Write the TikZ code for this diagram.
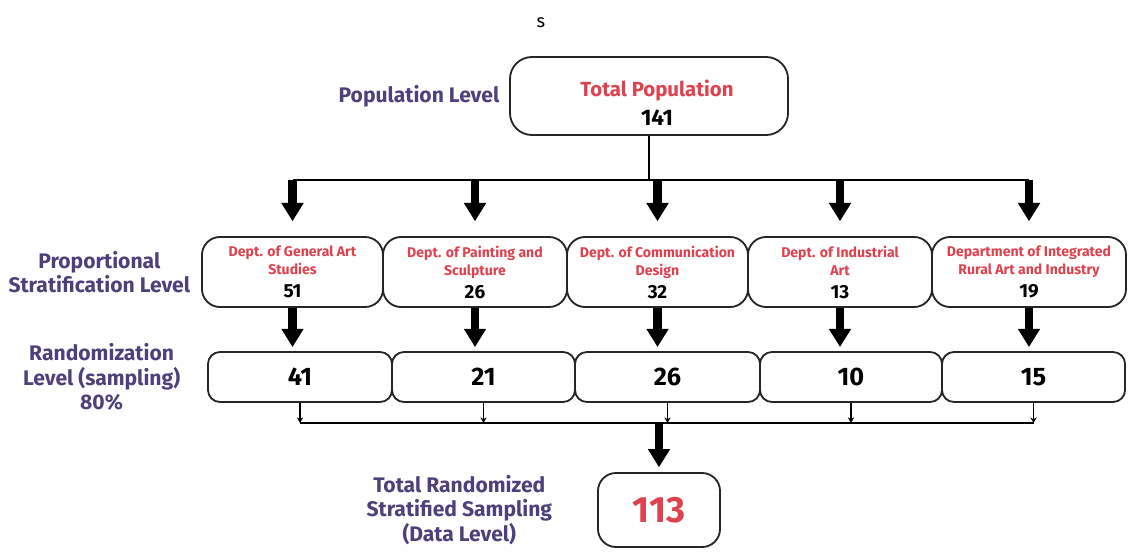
\documentclass[tikz,border=0pt]{standalone}
\usepackage{fontspec}
\setmainfont{Fira Sans}
\usetikzlibrary{arrows.meta}
\usetikzlibrary{positioning}
\definecolor{levelpurple}{RGB}{78,64,122}
\definecolor{deptred}{RGB}{222,66,78}
\newcommand\deptfont{\bfseries\fontsize{10}{12.8}\selectfont}
\newcommand\numfont{\bfseries\fontsize{13.5}{14}\selectfont}
\newcommand\deptlines[3]{\textcolor{deptred}{#1}\\\textcolor{deptred}{#2}\\[3.5pt]{\numfont #3}}
\tikzset{
  roundbox/.style={draw=black!85,line width=1.3pt,fill=white,inner sep=0pt},
  deptbox/.style={roundbox,rounded corners=0.45cm,minimum height=1.75cm,align=center,font=\deptfont},
  randbox/.style={roundbox,rounded corners=0.3cm,minimum height=1.25cm,font=\bfseries\fontsize{18}{20}\selectfont},
  levellabel/.style={font=\bfseries\fontsize{15}{17.5}\selectfont,text=levelpurple,align=center},
  thinline/.style={line width=1.3pt},
  bigarrow/.style={line width=6pt,-{Triangle[width=15pt,length=13pt]}},
  smallarrow/.style={line width=1.2pt,-{Stealth[width=4.5pt,length=4pt]}},
}

\begin{document}
\begin{tikzpicture}[x=0.025cm,y=-0.025cm]
\useasboundingbox (0,0) rectangle (1128,551);
\node[font=\fontsize{13}{15}\selectfont] (note) at (541,23) {s};

\node[roundbox,rounded corners=0.55cm,minimum width=6.95cm,minimum height=1.95cm] (total) at (649,96) {};
\node[font=\bfseries\fontsize{14.5}{20.5}\selectfont,align=center] (totaltext) at (657,103) {\textcolor{deptred}{Total Population}\\{\fontsize{16}{20.5}\selectfont 141}};
\node[levellabel,left=0.12cm of total] (poplevel) {Population Level};

\node[deptbox,minimum width=4.525cm] (dept1) at (292.5,272) {\deptlines{Dept. of General Art}{Studies}{51}};
\node[deptbox,minimum width=4.6cm] (dept2) at (475,272) {\deptlines{Dept. of Painting and}{Sculpture}{26}};
\node[deptbox,minimum width=4.525cm] (dept3) at (657.5,272) {\deptlines{Dept. of Communication}{Design}{32}};
\node[deptbox,minimum width=4.6cm] (dept4) at (840,272) {\deptlines{Dept. of Industrial}{Art}{13}};
\node[deptbox,minimum width=4.85cm] (dept5) at (1029,272) {\deptlines{Department of Integrated}{Rural Art and Industry}{19}};
\node[levellabel,left=0.15cm of dept1] (stratlevel) {Proportional\\Stratification Level};

\node[randbox,minimum width=4.6cm] (rand1) at (300,377) {41};
\node[randbox,minimum width=4.575cm] (rand2) at (483.5,377) {21};
\node[randbox,minimum width=4.625cm] (rand3) at (667.5,377) {26};
\node[randbox,minimum width=4.55cm] (rand4) at (851,377) {10};
\node[randbox,minimum width=4.575cm] (rand5) at (1033.5,377) {15};
\node[levellabel,left=0.55cm of rand1] (randlevel) {Randomization\\Level (sampling)\\80\%};

\node[roundbox,rounded corners=0.45cm,minimum width=3.05cm,minimum height=1.85cm,font=\bfseries\fontsize{26}{28}\selectfont,text=deptred] (final) at (659,510) {113};
\node[levellabel,left=1cm of final] (datalevel) {Total Randomized\\Stratified Sampling\\(Data Level)};

\coordinate (split) at (649,180);
\coordinate (join) at (659,423);
\draw[thinline] (total.south) -- (split);
\draw[thinline] (dept1.north |- split) -- (dept5.north |- split);
\draw[thinline] (rand1.south |- join) -- (rand5.south |- join);
\foreach \i in {1,...,5}{
\draw[bigarrow] (dept\i.north |- split) -- ([yshift=0.37cm]dept\i.north);
\draw[bigarrow] (dept\i.south) -- ([yshift=0.1cm]dept\i.south |- rand\i.north);
\draw[smallarrow] (rand\i.south) -- (rand\i.south |- join);
}
\draw[bigarrow] (join) -- ([yshift=0.12cm]final.north);

\end{tikzpicture}
\end{document}
